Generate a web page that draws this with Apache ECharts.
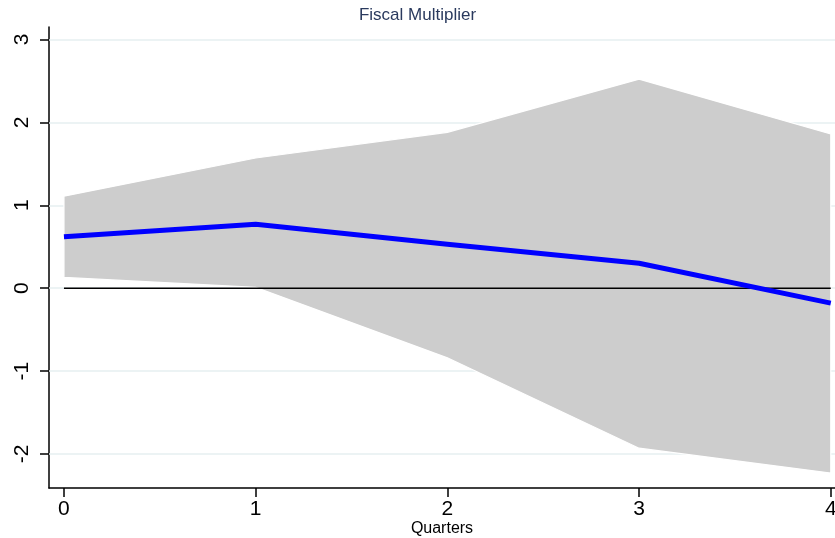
<!DOCTYPE html>
<html>
<head>
<meta charset="utf-8">
<title>Fiscal Multiplier</title>
<script src="https://cdn.jsdelivr.net/npm/echarts@6/dist/echarts.min.js"></script>
<style>
  html, body { margin: 0; padding: 0; background: #ffffff; }
  #chart { width: 835px; height: 538px; }
</style>
</head>
<body>
<div id="chart"></div>
<script>
// Horizon (quarters after the shock)
const quarters = [0, 1, 2, 3, 4];
// Point estimate of the multiplier
const multiplier = [0.62, 0.77, 0.53, 0.30, -0.18];
// Confidence band
const upperBand = [1.11, 1.57, 1.88, 2.52, 1.86];
const lowerBand = [0.13, 0.01, -0.84, -1.93, -2.23];
// Axis tick values
const xTicks = [0, 1, 2, 3, 4];
const yTicks = [-2, -1, 0, 1, 2, 3];

const FONT = '"Liberation Sans", Arial, Helvetica, sans-serif';

const chart = echarts.init(document.getElementById('chart'), null, { renderer: 'canvas' });

// Polygon for the shaded band: upper edge left to right, lower edge back
function renderBand(params, api) {
  const pts = [];
  for (let i = 0; i < quarters.length; i++) pts.push(api.coord([quarters[i], upperBand[i]]));
  for (let i = quarters.length - 1; i >= 0; i--) pts.push(api.coord([quarters[i], lowerBand[i]]));
  return {
    type: 'polygon',
    shape: { points: pts },
    style: { fill: '#cdcdcd', stroke: '#ffffff', lineWidth: 1.2 }
  };
}

const option = {
  animation: false,
  backgroundColor: '#ffffff',
  title: {
    text: 'Fiscal Multiplier',
    left: 'center',
    top: 2,
    textStyle: { fontFamily: FONT, fontSize: 17, fontWeight: 'normal', color: '#2a3a5e' }
  },
  grid: { left: 49, right: 0, top: 27, bottom: 50, containLabel: false, outerBoundsMode: 'none' },
  xAxis: {
    type: 'value',
    min: -0.078,
    max: 4.022,
    name: 'Quarters',
    nameLocation: 'middle',
    nameGap: 33,
    nameMoveOverlap: false,
    nameTextStyle: { fontFamily: FONT, fontSize: 16, color: '#000000' },
    axisLine: { show: true, onZero: false, lineStyle: { color: '#000000', width: 1.5 } },
    axisTick: { show: true, length: 9, customValues: xTicks, lineStyle: { color: '#000000', width: 1.5 } },
    axisLabel: { customValues: xTicks, margin: 11, fontFamily: FONT, fontSize: 21, color: '#000000' },
    splitLine: { show: false }
  },
  yAxis: {
    type: 'value',
    min: -2.41,
    max: 3.15,
    axisLine: { show: true, onZero: false, lineStyle: { color: '#000000', width: 1.5 } },
    axisTick: { show: true, length: 9, customValues: yTicks, lineStyle: { color: '#000000', width: 1.5 } },
    axisLabel: { customValues: yTicks, rotate: 90, margin: 16, fontFamily: FONT, fontSize: 21, color: '#000000' },
    splitLine: { show: false }
  },
  series: [
    {
      // horizontal grid lines at each labelled value
      type: 'line',
      data: [],
      z: 1,
      silent: true,
      markLine: {
        z: 1,
        silent: true,
        symbol: 'none',
        label: { show: false },
        lineStyle: { color: '#e6eff1', width: 1.5, type: 'solid' },
        data: yTicks.map(v => ({ yAxis: v }))
      }
    },
    {
      type: 'custom',
      z: 2,
      silent: true,
      data: [0],
      renderItem: renderBand
    },
    {
      // zero reference line across the horizon
      type: 'line',
      z: 3,
      silent: true,
      showSymbol: false,
      data: [[quarters[0], 0], [quarters[quarters.length - 1], 0]],
      lineStyle: { color: '#000000', width: 1.5 }
    },
    {
      type: 'line',
      z: 4,
      silent: true,
      showSymbol: false,
      data: quarters.map((q, i) => [q, multiplier[i]]),
      lineStyle: { color: '#0000ff', width: 5, cap: 'butt', join: 'round' }
    }
  ]
};

chart.setOption(option);
</script>
</body>
</html>
